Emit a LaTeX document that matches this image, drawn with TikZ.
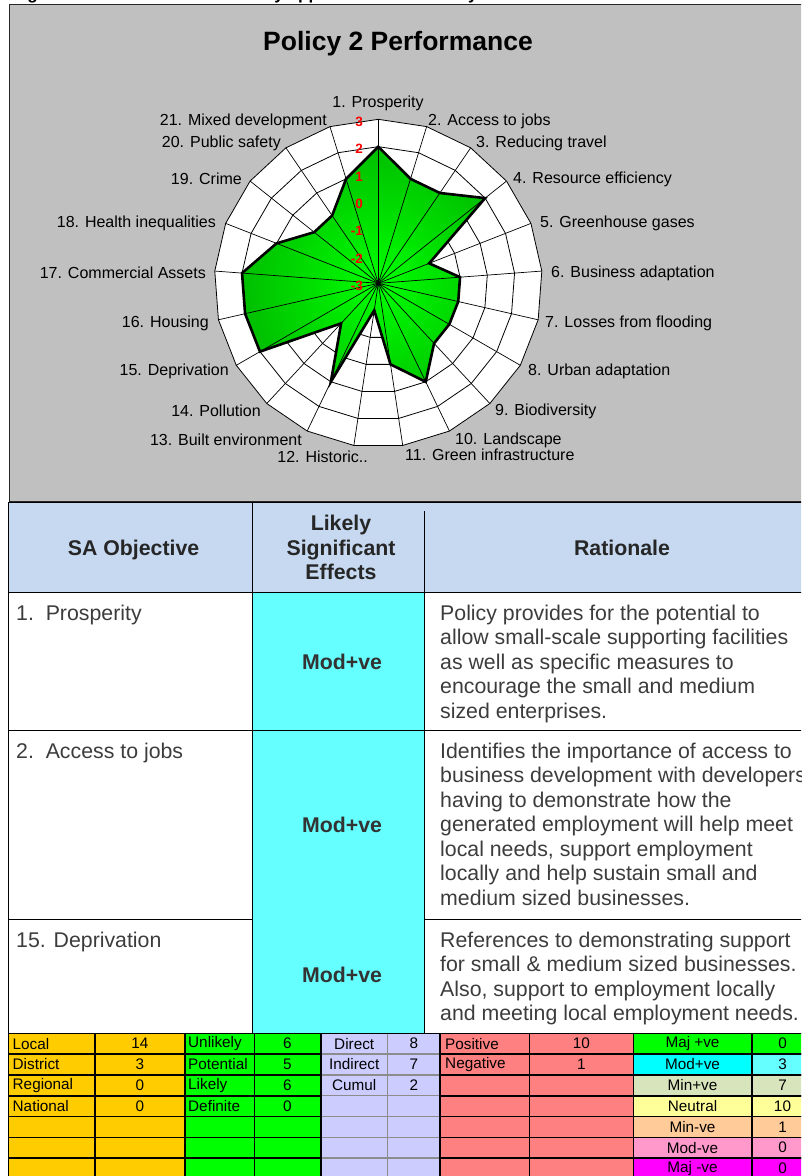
\documentclass[tikz,border=0pt]{standalone}
\usepackage{fontspec}
\setmainfont{Liberation Sans}
\definecolor{chartgray}{RGB}{192,192,192}
\definecolor{hdrblue}{RGB}{198,217,240}
\definecolor{cyancell}{RGB}{102,255,255}
\definecolor{txtgray}{RGB}{60,60,60}
\definecolor{orangecell}{RGB}{255,204,0}
\definecolor{greencell}{RGB}{0,255,0}
\definecolor{lavcell}{RGB}{204,204,255}
\definecolor{salmoncell}{RGB}{255,128,128}
\definecolor{cyanA}{RGB}{0,255,255}
\definecolor{minpos}{RGB}{216,228,188}
\definecolor{neutralc}{RGB}{255,255,153}
\definecolor{minneg}{RGB}{255,204,153}
\definecolor{modneg}{RGB}{255,153,204}
\definecolor{majneg}{RGB}{255,0,255}
\definecolor{gbright}{RGB}{0,255,0}
\definecolor{gdark}{RGB}{0,100,0}
\pgfdeclareradialshading{greenrad}{\pgfpoint{0bp}{0bp}}{color(0bp)=(gbright); color(50bp)=(gdark)}
\begin{document}
\begin{tikzpicture}[x=1pt,y=-1pt,
  axlab/.style={inner sep=0pt, font=\fontsize{16}{19}\selectfont},
  redlab/.style={inner sep=0pt, text=red, font=\bfseries\fontsize{13.5}{16}\selectfont},
  ringline/.style={draw=black, line width=0.8pt},
  spokeline/.style={draw=black, line width=0.7pt},
  hdr/.style={inner sep=0pt, font=\bfseries\fontsize{21.3}{24.5}\selectfont, text=black!85},
  body/.style={inner sep=0pt, font=\fontsize{21.3}{24.5}\selectfont, text=txtgray},
  effect/.style={inner sep=0pt, font=\bfseries\fontsize{21.3}{24.5}\selectfont, text=black!80},
  tline/.style={draw=black, line width=1pt},
  sm/.style={inner sep=0pt, font=\fontsize{15.3}{18}\selectfont, text=black},
  bk/.style={draw=black, line width=1.6pt},
  gy/.style={draw=black!45, line width=1.3pt}
]
\useasboundingbox (0,0) rectangle (801,1176);
\clip (0,0) rectangle (801,1176);

% cut-off caption above the chart
\node[anchor=base west, inner sep=0pt, font=\bfseries\fontsize{17}{20}\selectfont] (caption) at (12,-1) {Figure 5.2: Performance of Policy approach for the Policy};

% chart area
\draw[fill=chartgray, draw=black!85, line width=1.5pt] (9.5,4.7) rectangle (815,501.5);
\node[anchor=base, inner sep=0pt, font=\bfseries\fontsize{26.5}{30}\selectfont] (title) at (398,50.7) {Policy 2 Performance};

\def\cx{378.3}
\def\cy{283.3}
\def\rs{27.33}
% white plot area
\fill[white] (\cx,{\cy-6*\rs}) \foreach \k in {1,...,20}{ -- ({\cx+6*\rs*sin(\k*360/21)},{\cy-6*\rs*cos(\k*360/21)}) } -- cycle;
% rings
\foreach \l in {1,...,6}{
  \draw[ringline] (\cx,{\cy-\l*\rs}) \foreach \k in {1,...,20}{ -- ({\cx+\l*\rs*sin(\k*360/21)},{\cy-\l*\rs*cos(\k*360/21)}) } -- cycle;
}
% data points
\foreach \v [count=\k from 0] in {2,1,1,2,-1,0,0,0,0,1,0,-2,1,-1,2,2,2,1,0,0,1}
  \coordinate (d\k) at ({\cx+(\v+3)*\rs*sin(\k*360/21)},{\cy-(\v+3)*\rs*cos(\k*360/21)});
\begin{scope}
  \clip (d0) \foreach \k in {1,...,20}{ -- (d\k) } -- cycle;
  \shade[shading=greenrad] (\cx,\cy) circle (164pt);
\end{scope}
% spokes
\foreach \k in {0,...,20}
  \draw[spokeline] (\cx,\cy) -- ({\cx+6*\rs*sin(\k*360/21)},{\cy-6*\rs*cos(\k*360/21)});
% data outline
\draw[line width=2.6pt, line join=miter] (d0) \foreach \k in {1,...,20}{ -- (d\k) } -- cycle;
% value labels
\foreach \v [count=\i from 0] in {3,2,1,0,-1,-2,-3}
  \node[redlab, anchor=east] (val\i) at (363,{\cy-(\v+3)*\rs+2.5}) {\v};
% axis labels
\foreach \t/\x/\y/\a [count=\i] in {
  {1. Prosperity}/378/103/center,
  {2. Access to jobs}/428/121/west,
  {3. Reducing travel}/476/143/west,
  {4. Resource efficiency}/513/179/west,
  {5. Greenhouse gases}/540/223/west,
  {6. Business adaptation}/551/273/west,
  {7. Losses from flooding}/545/323/west,
  {8. Urban adaptation}/528/371/west,
  {9. Biodiversity}/495/411/west,
  {10. Landscape}/455/440/west,
  {11. Green infrastructure}/405/455/west,
  {12. Historic..}/368/457/east,
  {13. Built environment}/302/440/east,
  {14. Pollution}/261/411/east,
  {15. Deprivation}/229/371/east,
  {16. Housing}/209/323/east,
  {17. Commercial Assets}/206/273/east,
  {18. Health inequalities}/216/223/east,
  {19. Crime}/242/179/east,
  {20. Public safety}/281/143/east,
  {21. Mixed development}/327/121/east}
  \node[axlab, anchor=\a] (ax\i) at (\x,\y) {\t};

% ---------- SA table ----------
\fill[hdrblue] (8.3,502) rectangle (815,592);
\fill[cyancell] (252,592) rectangle (424,1033);
\draw[tline] (8.3,502) -- (815,502);
\draw[tline] (8.3,592) -- (815,592);
\draw[tline] (8.3,730) -- (815,730);
\draw[tline] (8.3,919) -- (252,919);
\draw[tline] (424,919) -- (815,919);
\draw[tline] (8.3,502) -- (8.3,1033);
\draw[tline] (252,502) -- (252,1033);
\draw[tline] (424,511) -- (424,1033);

\node[hdr, anchor=base] (h1) at (133.6,555.5) {SA Objective};
\node[hdr, anchor=base] (h2a) at (341,530.5) {Likely};
\node[hdr, anchor=base] (h2b) at (341,555) {Significant};
\node[hdr, anchor=base] (h2c) at (341,579.5) {Effects};
\node[hdr, anchor=base] (h3) at (622,555.5) {Rationale};

\node[body, anchor=base west] (o1) at (16,620) {1.\ \ Prosperity};
\node[body, anchor=base west] (o2) at (16,758) {2.\ \ Access to jobs};
\node[body, anchor=base west] (o3) at (16,947) {15. Deprivation};

\node[effect, anchor=base] (e1) at (342,669) {Mod+ve};
\node[effect, anchor=base] (e2) at (342,832) {Mod+ve};
\node[effect, anchor=base] (e3) at (342,982) {Mod+ve};

\foreach \t [count=\i from 0] in {
  {Policy provides for the potential to},
  {allow small-scale supporting facilities},
  {as well as specific measures to},
  {encourage the small and medium},
  {sized enterprises.}}
  \node[body, anchor=base west] (ra\i) at (440,{620+24.5*\i}) {\t};
\foreach \t [count=\i from 0] in {
  {Identifies the importance of access to},
  {business development with developers},
  {having to demonstrate how the},
  {generated employment will help meet},
  {local needs, support employment},
  {locally and help sustain small and},
  {medium sized businesses.}}
  \node[body, anchor=base west] (rb\i) at (440,{758+24.5*\i}) {\t};
\foreach \t [count=\i from 0] in {
  {References to demonstrating support},
  {for small \& medium sized businesses.},
  {Also, support to employment locally},
  {and meeting local employment needs.}}
  \node[body, anchor=base west] (rc\i) at (440,{947+24.5*\i}) {\t};

% ---------- summary table ----------
\def\ry{1033.3}
\def\rh{20.8}
% lavender block with grey inner lines
\fill[lavcell] (320.7,\ry) rectangle (440,1180);
\foreach \i in {1,...,7}
  \draw[gy] (320.7,{\ry+\rh*\i}) -- (440,{\ry+\rh*\i});
\draw[gy] (387.7,\ry) -- (387.7,1180);
% black-bordered blocks
\foreach \i in {0,...,6}{
  \draw[bk, fill=orangecell] (8.3,{\ry+\rh*\i}) rectangle (95,{\ry+\rh*(\i+1)});
  \draw[bk, fill=orangecell] (95,{\ry+\rh*\i}) rectangle (185,{\ry+\rh*(\i+1)});
  \draw[bk, fill=greencell] (185,{\ry+\rh*\i}) rectangle (254.3,{\ry+\rh*(\i+1)});
  \draw[bk, fill=greencell] (254.3,{\ry+\rh*\i}) rectangle (320.7,{\ry+\rh*(\i+1)});
  \draw[bk, fill=salmoncell] (440,{\ry+\rh*\i}) rectangle (529.3,{\ry+\rh*(\i+1)});
  \draw[bk, fill=salmoncell] (529.3,{\ry+\rh*\i}) rectangle (633.3,{\ry+\rh*(\i+1)});
}
\foreach \ca/\cb [count=\i from 0] in {greencell/greencell, cyanA/cyancell, minpos/minpos, neutralc/neutralc, minneg/minneg, modneg/modneg, majneg/majneg}{
  \draw[bk, fill=\ca] (633.3,{\ry+\rh*\i}) rectangle (751.7,{\ry+\rh*(\i+1)});
  \draw[bk, fill=\cb] (751.7,{\ry+\rh*\i}) rectangle (815,{\ry+\rh*(\i+1)});
}
\draw[bk] (320.7,\ry) -- (440,\ry);

% texts
\foreach \a/\b [count=\i from 0] in {Local/14, District/3, Regional/0, National/0}{
  \node[sm, anchor=west] (sa\i) at (12.5,{\ry+\rh*(\i+0.5)}) {\a};
  \node[sm] (sb\i) at (140,{\ry+\rh*(\i+0.5)}) {\b};
}
\foreach \a/\b [count=\i from 0] in {Unlikely/6, Potential/5, Likely/6, Definite/0}{
  \node[sm, anchor=west] (sc\i) at (188,{\ry+\rh*(\i+0.5)}) {\a};
  \node[sm] (sd\i) at (287.5,{\ry+\rh*(\i+0.5)}) {\b};
}
\foreach \a/\b [count=\i from 0] in {Direct/8, Indirect/7, Cumul/2}{
  \node[sm] (se\i) at (354.2,{\ry+\rh*(\i+0.5)}) {\a};
  \node[sm] (sf\i) at (413.8,{\ry+\rh*(\i+0.5)}) {\b};
}
\foreach \a/\b [count=\i from 0] in {Positive/10, Negative/1}{
  \node[sm, anchor=west] (sg\i) at (445,{\ry+\rh*(\i+0.5)}) {\a};
  \node[sm] (sh\i) at (581.3,{\ry+\rh*(\i+0.5)}) {\b};
}
\foreach \a/\b [count=\i from 0] in {Maj +ve/0, Mod+ve/3, Min+ve/7, Neutral/10, Min-ve/1, Mod-ve/0, Maj -ve/0}{
  \node[sm] (si\i) at (692.5,{\ry+\rh*(\i+0.5)}) {\a};
  \node[sm] (sj\i) at (782.5,{\ry+\rh*(\i+0.5)}) {\b};
}
\end{tikzpicture}
\end{document}
